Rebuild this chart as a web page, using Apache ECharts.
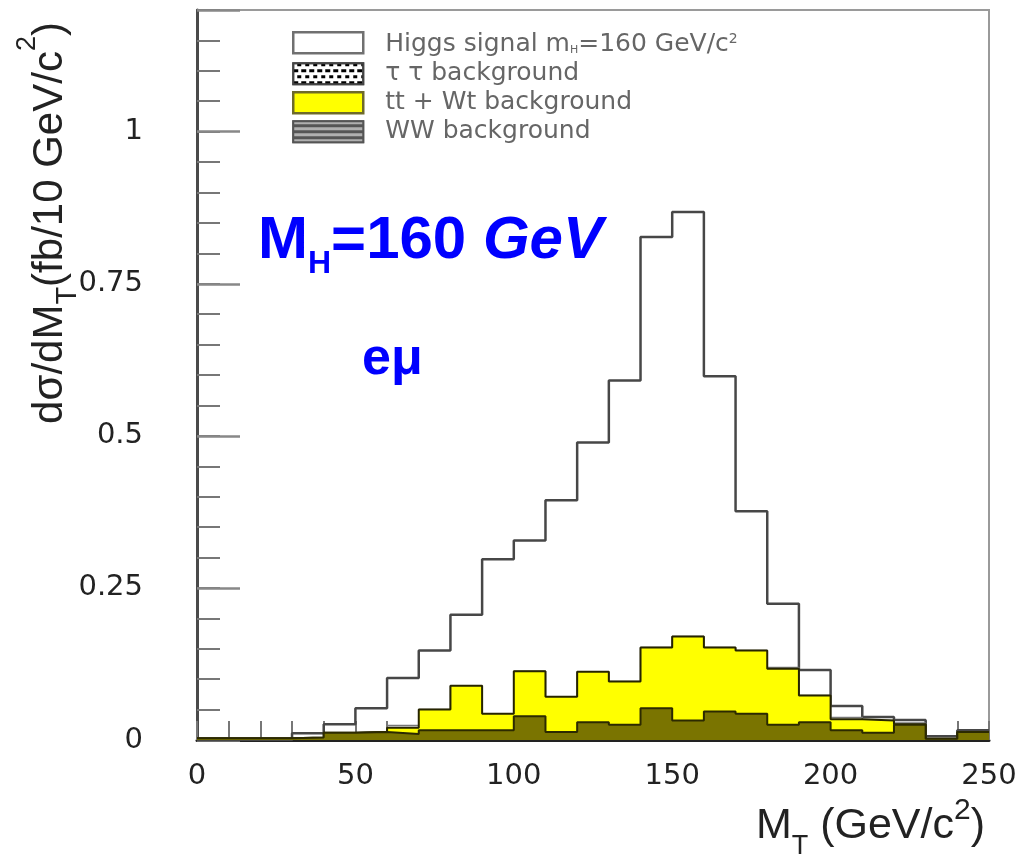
<!DOCTYPE html>
<html>
<head>
<meta charset="utf-8">
<script src="https://cdn.jsdelivr.net/npm/echarts@6/dist/echarts.min.js"></script>
<style>html,body{margin:0;padding:0;background:#fff}#c{width:1033px;height:858px}</style>
</head>
<body>
<div id="c"></div>
<script>
// Bin left edges (GeV/c^2), 10 GeV bins
const binEdges = [0,10,20,30,40,50,60,70,80,90,100,110,120,130,140,150,160,170,180,190,200,210,220,230,240];
const binUpper = 250;
// dσ/dM_T (fb / 10 GeV/c^2)
const higgsSignal = [0,0,0,0.011,0.026,0.052,0.102,0.147,0.206,0.297,0.328,0.394,0.489,0.591,0.827,0.868,0.598,0.376,0.224,0.115,0.056,0.038,0.033,0.006,0.016];
const wwBackground = [0.003,0.003,0.003,0.004,0.012,0.013,0.010,0.016,0.016,0.016,0.039,0.013,0.029,0.025,0.052,0.032,0.047,0.043,0.025,0.029,0.016,0.012,0.025,0.002,0.013];
const ttWtBackground = [0,0,0,0,0,0,0.010,0.034,0.073,0.027,0.074,0.058,0.083,0.071,0.100,0.138,0.105,0.104,0.092,0.044,0.018,0.020,0.001,0,0];
const tautauBackground = [0,0,0,0,0,0.001,0.004,0,0,0,0,0,0,0,0,0,0,0,0.002,0,0.003,0,0.002,0,0];
const xTickLabels = [0,50,100,150,200,250];
const yTickLabels = [0,0.25,0.5,0.75,1];

// backgrounds are stacked: WW, then tt+Wt on top, then ττ on top
const sumArrays = (...arrs) => arrs[0].map((_, i) => arrs.reduce((s, a) => s + a[i], 0));
const stackWW = wwBackground;
const stackTT = sumArrays(wwBackground, ttWtBackground);
const stackTau = sumArrays(wwBackground, ttWtBackground, tautauBackground);

function steps(vals) {
  const pts = binEdges.map((x, i) => [x, vals[i]]);
  pts.push([binUpper, vals[vals.length - 1]]);
  return pts;
}

const chart = echarts.init(document.getElementById('c'), null, {renderer: 'canvas'});
const labelFont = {fontFamily: 'DejaVu Sans', fontSize: 29, color: '#222'};
const titleFont = 'Liberation Sans';
const legendColor = '#666';

chart.setOption({
  animation: false,
  backgroundColor: '#fff',
  grid: {left: 197, right: 44, top: 10, bottom: 118, show: true, borderColor: '#9a9a9a', borderWidth: 2, backgroundColor: 'transparent'},
  xAxis: {
    type: 'value', min: 0, max: 250, interval: 10,
    axisLine: {show: true, lineStyle: {color: '#222', width: 3}},
    axisTick: {show: true, inside: true, length: 19, lineStyle: {color: '#777', width: 2}},
    splitLine: {show: false},
    axisLabel: Object.assign({margin: 22, formatter: v => xTickLabels.indexOf(v) >= 0 ? String(v) : ''}, labelFont)
  },
  yAxis: [{
    type: 'value', min: 0, max: 1.2, interval: 0.05, position: 'left',
    axisLine: {show: true, lineStyle: {color: '#4a4a4a', width: 3}},
    axisTick: {show: true, inside: true, length: 23, lineStyle: {color: '#777', width: 2}},
    splitLine: {show: false},
    axisLabel: Object.assign({margin: 54, formatter: v => {
      const i = yTickLabels.findIndex(t => Math.abs(t - v) < 1e-6);
      return i < 0 ? '' : String(yTickLabels[i]);
    }}, labelFont)
  }, {
    type: 'value', min: 0, max: 1.2, interval: 0.25, position: 'left',
    axisLine: {show: false},
    axisTick: {show: true, inside: true, length: 43, lineStyle: {color: '#888', width: 2.5}},
    splitLine: {show: false},
    axisLabel: {show: false}
  }],
  legend: {
    orient: 'vertical', left: 287, top: 26, itemWidth: 70, itemHeight: 21, itemGap: 4,
    selectedMode: false,
    textStyle: {fontFamily: 'DejaVu Sans', fontSize: 25, lineHeight: 21, color: legendColor, padding: [0, 0, 0, 17],
      rich: {
        m: {fontFamily: 'DejaVu Sans', fontSize: 25, lineHeight: 21, color: legendColor, verticalAlign: 'top'},
        sub: {fontFamily: 'DejaVu Sans', fontSize: 11, lineHeight: 9, color: legendColor, verticalAlign: 'top', padding: [12, 0, 0, 0]},
        sup: {fontFamily: 'DejaVu Sans', fontSize: 14, lineHeight: 14, color: legendColor, verticalAlign: 'top'}
      }
    },
    formatter: name => name === 'Higgs signal' ? '{m|Higgs signal m}{sub|H}{m|=160 GeV/c}{sup|2}' : name,
    data: [
      {name: 'Higgs signal', icon: 'rect', itemStyle: {color: '#fff', borderColor: '#707070', borderWidth: 2.5}},
      {name: 'τ τ background', icon: 'rect', itemStyle: {color: '#fff', borderColor: '#444', borderWidth: 2,
        decal: {color: '#000', symbol: 'rect', symbolSize: 1, dashArrayX: [[5, 3], [0, 4, 4, 0]], dashArrayY: [3, 3], rotation: 0}}},
      {name: 'tt + Wt background', icon: 'rect', itemStyle: {color: '#ffff00', borderColor: '#6e6a2a', borderWidth: 2.5}},
      {name: 'WW background', icon: 'rect', itemStyle: {color: '#555', borderColor: '#555', borderWidth: 2,
        decal: {color: '#b0b0b0', symbol: 'rect', symbolSize: 1, dashArrayX: [1, 0], dashArrayY: [3, 3], rotation: 0}}}
    ]
  },
  series: [
    {name: 'Higgs signal', type: 'line', step: 'end', data: steps(higgsSignal), symbol: 'none',
      lineStyle: {color: '#474747', width: 2.5}, itemStyle: {color: '#474747'}, z: 2},
    {name: 'τ τ background', type: 'line', step: 'end', data: steps(stackTau), symbol: 'none',
      lineStyle: {color: '#777', width: 1.5}, itemStyle: {color: '#fff'}, areaStyle: {color: '#fff', opacity: 1}, z: 3},
    {name: 'tt + Wt background', type: 'line', step: 'end', data: steps(stackTT), symbol: 'none',
      lineStyle: {color: '#262400', width: 2}, itemStyle: {color: '#ffff00'}, areaStyle: {color: '#ffff00', opacity: 1}, z: 4},
    {name: 'WW background', type: 'line', step: 'end', data: steps(stackWW), symbol: 'none',
      lineStyle: {color: '#2c2a00', width: 2}, itemStyle: {color: '#7a7400'}, areaStyle: {color: '#7a7400', opacity: 1}, z: 5}
  ],
  graphic: [
    { // y-axis title
      type: 'text', x: 14, y: 223, rotation: Math.PI / 2, z: 10,
      style: {
        text: '{m|dσ/dM}{sub|T}{m|(fb/10 GeV/c}{sup|2}{m|)}',
        align: 'center', verticalAlign: 'top',
        rich: {
          m: {fontFamily: titleFont, fontSize: 42, lineHeight: 42, fill: '#222', verticalAlign: 'top', padding: [15, 0, 0, 0]},
          sub: {fontFamily: titleFont, fontSize: 29, lineHeight: 29, fill: '#222', verticalAlign: 'top', padding: [39, 0, 0, 0]},
          sup: {fontFamily: titleFont, fontSize: 27, lineHeight: 27, fill: '#222', verticalAlign: 'top', padding: [0, 0, 0, 0]}
        }
      }
    },
    { // x-axis title
      type: 'text', x: 985, y: 793, z: 10,
      style: {
        text: '{m|M}{sub|T}{m| (GeV/c}{sup|2}{m|)}',
        align: 'right', verticalAlign: 'top',
        rich: {
          m: {fontFamily: titleFont, fontSize: 43, lineHeight: 43, fill: '#222', verticalAlign: 'top', padding: [12, 0, 0, 0]},
          sub: {fontFamily: titleFont, fontSize: 27, lineHeight: 27, fill: '#222', verticalAlign: 'top', padding: [40, 0, 0, 0]},
          sup: {fontFamily: titleFont, fontSize: 30, lineHeight: 30, fill: '#222', verticalAlign: 'top', padding: [3, 0, 0, 0]}
        }
      }
    },
    { // M_H=160 GeV
      type: 'text', x: 258, y: 211, z: 10,
      style: {
        text: '{m|M}{sub|H}{m|=160 }{it|GeV}',
        align: 'left', verticalAlign: 'top',
        rich: {
          m: {fontFamily: titleFont, fontWeight: 'bold', fontSize: 60, lineHeight: 60, fill: '#0000ff', verticalAlign: 'top'},
          it: {fontFamily: titleFont, fontWeight: 'bold', fontStyle: 'italic', fontSize: 60, lineHeight: 60, fill: '#0000ff', verticalAlign: 'top'},
          sub: {fontFamily: titleFont, fontWeight: 'bold', fontSize: 32, lineHeight: 32, fill: '#0000ff', verticalAlign: 'top', padding: [37, 0, 0, 0]}
        }
      }
    },
    { // eμ
      type: 'text', x: 362, y: 360, z: 10,
      style: {text: 'eμ', fontFamily: titleFont, fontWeight: 'bold', fontSize: 52, fill: '#0000ff', align: 'left', verticalAlign: 'middle'}
    }
  ]
});
</script>
</body>
</html>
